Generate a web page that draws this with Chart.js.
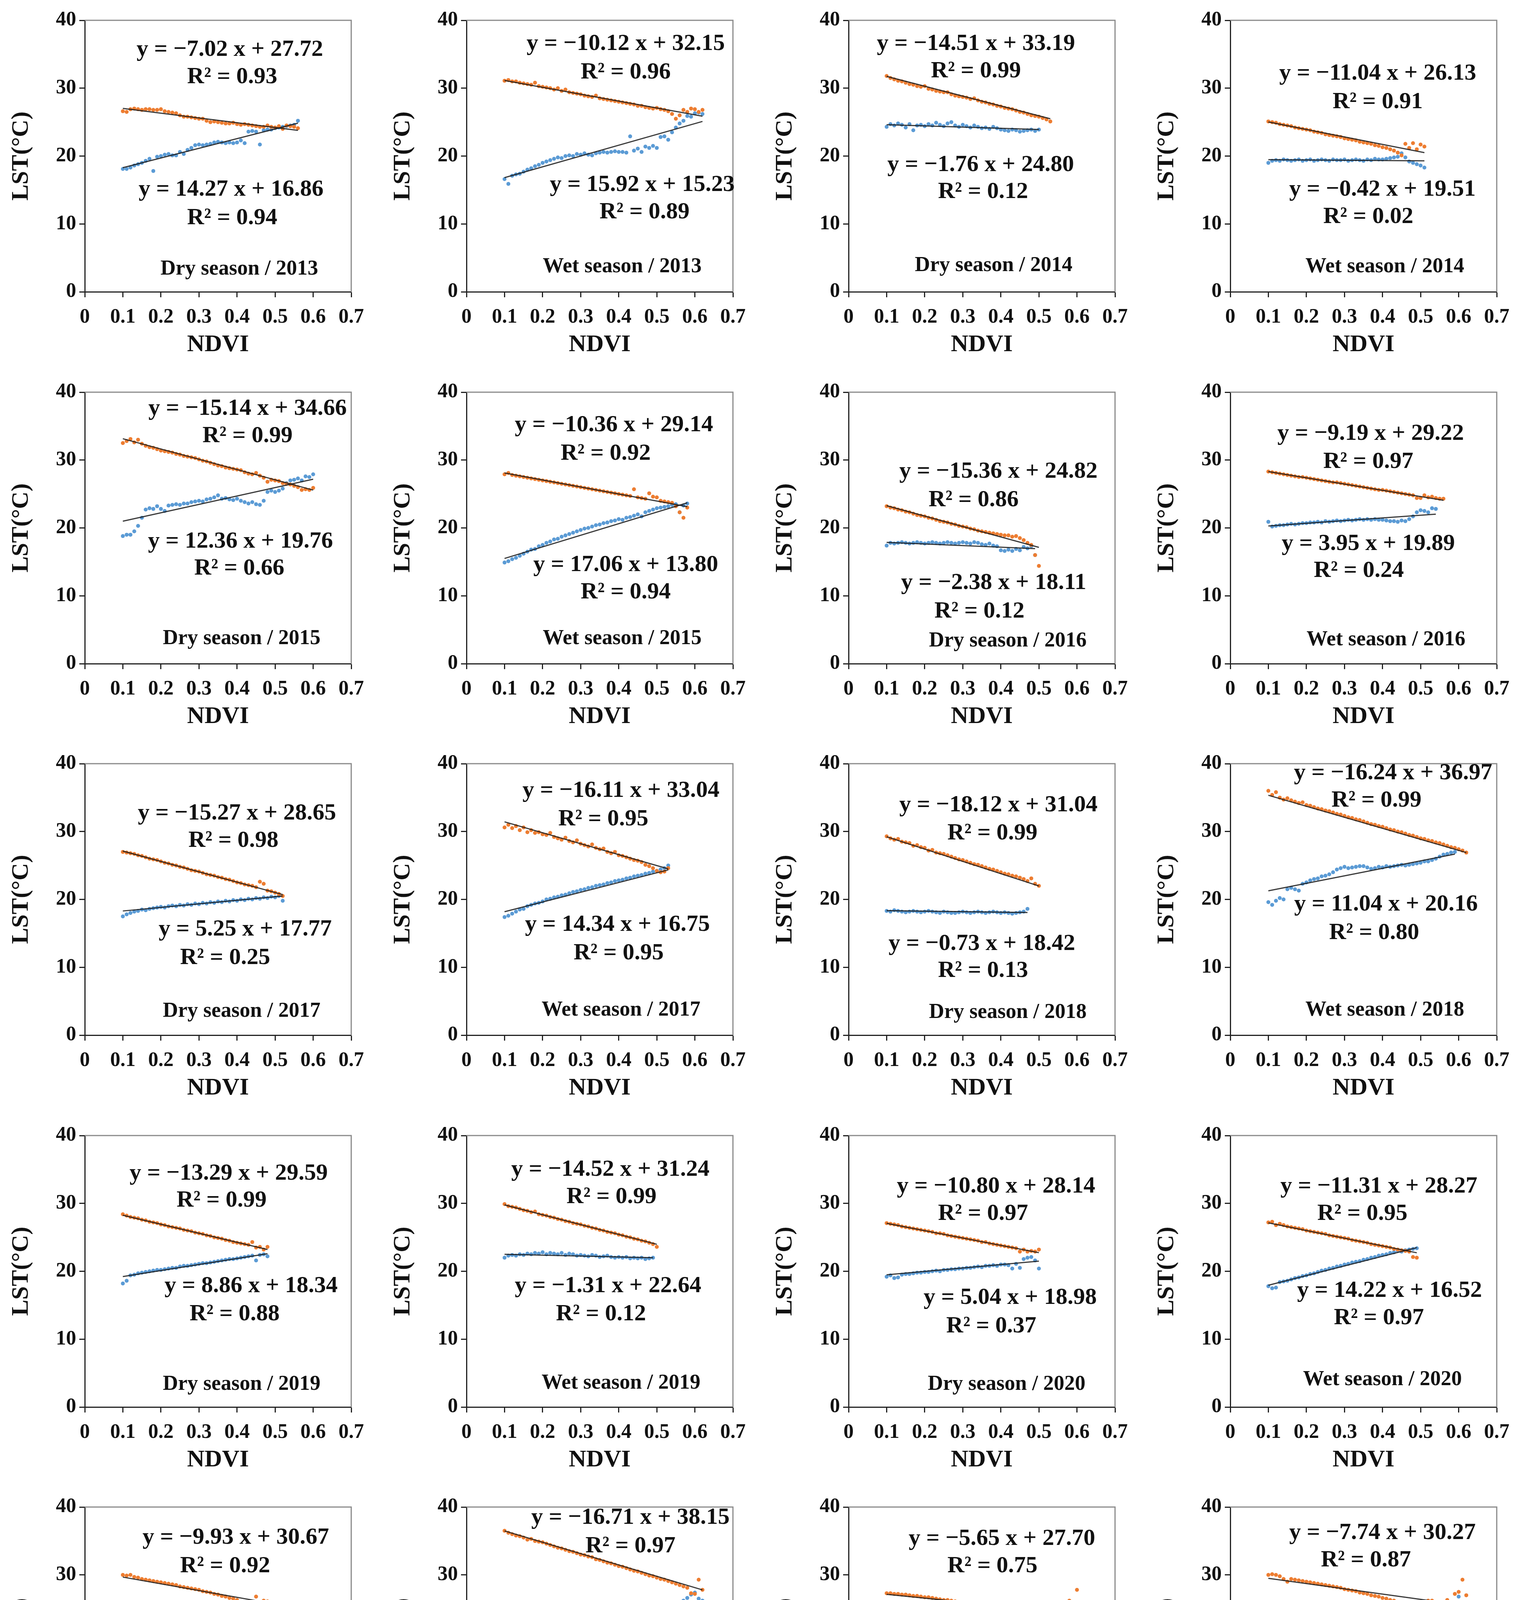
<!DOCTYPE html>
<html>
<head>
<meta charset="utf-8">
<script src="https://cdn.jsdelivr.net/npm/chart.js@4.4.1/dist/chart.umd.min.js"></script>
<style>
html, body { margin: 0; padding: 0; background: #fff; width: 3888px; height: 4744px; overflow: hidden; position: relative; }
canvas { position: absolute; }
</style>
</head>
<body>
<script>
// NDVI positions shared by every panel (each series uses the first n of them)
const ndvi = [0.10,0.11,0.12,0.13,0.14,0.15,0.16,0.17,0.18,0.19,
              0.20,0.21,0.22,0.23,0.24,0.25,0.26,0.27,0.28,0.29,
              0.30,0.31,0.32,0.33,0.34,0.35,0.36,0.37,0.38,0.39,
              0.40,0.41,0.42,0.43,0.44,0.45,0.46,0.47,0.48,0.49,
              0.50,0.51,0.52,0.53,0.54,0.55,0.56,0.57,0.58,0.59,
              0.60,0.61,0.62];

const panelTitles = ["Dry season / 2013", "Wet season / 2013", "Dry season / 2014", "Wet season / 2014",
                     "Dry season / 2015", "Wet season / 2015", "Dry season / 2016", "Wet season / 2016",
                     "Dry season / 2017", "Wet season / 2017", "Dry season / 2018", "Wet season / 2018",
                     "Dry season / 2019", "Wet season / 2019", "Dry season / 2020", "Wet season / 2020",
                     "Dry season / 2022", "Wet season / 2021", "Dry season / 2022", "Wet season / 2022"];

// fitted equations printed on each panel
const orangeSlope = [-7.02,-10.12,-14.51,-11.04,-15.14,-10.36,-15.36,-9.19,-15.27,-16.11,-18.12,-16.24,-13.29,-14.52,-10.80,-11.31,-9.93,-16.71,-5.65,-7.74];
const orangeIntercept = [27.72,32.15,33.19,26.13,34.66,29.14,24.82,29.22,28.65,33.04,31.04,36.97,29.59,31.24,28.14,28.27,30.67,38.15,27.70,30.27];
const orangeR2 = [0.93,0.96,0.99,0.91,0.99,0.92,0.86,0.97,0.98,0.95,0.99,0.99,0.99,0.99,0.97,0.95,0.92,0.97,0.75,0.87];
const blueSlope = [14.27,15.92,-1.76,-0.42,12.36,17.06,-2.38,3.95,5.25,14.34,-0.73,11.04,8.86,-1.31,5.04,14.22,11.70,4.31,7.77,11.52];
const blueIntercept = [16.86,15.23,24.80,19.51,19.76,13.80,18.11,19.89,17.77,16.75,18.42,20.16,18.34,22.64,18.98,16.52,17.98,23.51,19.82,17.98];
const blueR2 = [0.94,0.89,0.12,0.02,0.66,0.94,0.12,0.24,0.25,0.95,0.13,0.80,0.88,0.12,0.37,0.97,0.78,0.21,0.51,0.65];

// LST values
const orangeDry2013 = [26.6,26.5,26.9,27.0,26.9,26.8,26.9,26.9,26.8,26.8, 26.9,26.6,26.5,26.4,26.3,26.0,25.8,25.8,25.7,25.6,
  25.5,25.5,25.2,25.0,25.1,25.0,24.9,24.8,24.8,24.9, 24.7,24.6,24.7,24.6,24.5,24.4,24.3,24.3,24.5,24.3, 24.2,24.4,24.0,24.5,24.4,24.3,24.1];
const blueDry2013 = [18.1,18.1,18.3,18.6,18.8,19.0,19.3,19.6,17.8,19.9, 20.0,20.2,20.3,20.1,20.1,20.6,20.3,20.9,21.2,21.6,
  21.7,21.6,21.7,21.8,22.0,22.1,22.0,21.9,22.0,21.9, 22.0,22.3,21.9,23.6,23.7,23.6,21.7,23.8,23.9,23.9, 24.1,24.2,24.3,24.4,24.5,24.6,25.2];

const orangeWet2013 = [31.1,31.2,31.0,31.0,30.8,30.7,30.6,30.5,30.8,30.3, 30.2,30.1,30.0,29.8,30.0,29.6,29.8,29.4,29.3,29.2,
  29.1,28.9,28.8,28.7,28.9,28.5,28.4,28.3,28.2,28.1, 28.0,27.9,27.8,27.7,27.6,27.4,27.4,27.2,27.1,27.0,
  27.1,26.9,26.8,26.6,26.2,25.5,26.0,26.8,26.5,27.0, 26.9,26.5,26.8];
const blueWet2013 = [16.6,15.9,17.1,17.3,17.4,17.7,18.0,18.2,18.5,18.7, 19.0,19.2,19.4,19.6,19.8,19.7,20.0,20.1,20.0,20.3,
  20.2,20.4,20.2,20.1,20.4,20.5,20.6,20.5,20.6,20.7, 20.6,20.6,20.5,22.9,20.8,21.1,20.6,21.4,21.2,21.5,
  21.2,22.8,22.9,22.4,23.5,24.2,24.8,25.2,25.9,25.8, 26.3,26.4,26.2];

const orangeDry2014 = [31.8,31.5,31.3,31.1,31.0,30.8,30.6,30.5,30.3,30.2, 30.3,29.9,29.8,29.6,29.5,29.4,29.4,29.1,28.9,28.8,
  28.7,28.6,28.4,28.5,28.2,28.0,27.9,27.7,27.6,27.4, 27.3,27.1,27.0,26.9,26.7,26.5,26.4,26.2,26.0,25.9, 25.8,25.6,25.4,25.1];
const blueDry2014 = [24.3,24.7,24.5,24.8,24.6,24.2,24.7,23.8,24.5,24.6, 24.4,24.7,24.5,24.9,24.6,24.4,24.8,25.0,24.5,24.3,
  24.6,24.4,24.2,24.5,24.3,24.1,24.2,24.0,24.3,24.1, 23.9,23.8,23.7,23.9,23.8,23.6,23.7,23.8,23.9,23.7, 23.9];

const orangeWet2014 = [25.1,25.0,24.9,24.7,24.6,24.5,24.4,24.2,24.1,24.0, 23.9,23.8,23.6,23.5,23.4,23.2,23.1,23.0,22.9,22.8,
  22.6,22.5,22.4,22.3,22.1,22.0,21.9,21.8,21.6,21.5, 21.3,21.2,21.0,20.8,20.5,20.1,21.8,21.2,21.9,21.0, 21.7,21.4];
const blueWet2014 = [19.0,19.3,19.4,19.3,19.5,19.4,19.3,19.4,19.5,19.3, 19.4,19.5,19.3,19.4,19.5,19.4,19.3,19.5,19.4,19.4,
  19.5,19.3,19.4,19.5,19.4,19.3,19.5,19.4,19.6,19.5, 19.5,19.6,19.7,19.8,19.9,20.4,19.8,19.2,19.0,18.8, 18.6,18.3];

const orangeDry2015 = [32.5,32.8,33.1,32.6,33.0,32.4,32.1,31.9,31.8,31.6, 31.4,31.3,31.2,31.1,30.9,30.8,30.6,30.5,30.4,30.3,
  30.1,29.9,29.8,29.6,29.4,29.2,29.1,28.9,28.8,28.7, 28.6,28.5,28.2,28.0,27.9,28.1,27.7,27.4,26.8,27.1,
  27.0,26.9,26.6,26.5,26.4,26.2,26.0,25.6,25.7,25.6, 25.9];
const blueDry2015 = [18.8,19.0,19.0,19.5,20.3,21.5,22.7,22.9,22.8,23.2, 22.8,22.5,23.3,23.4,23.5,23.4,23.6,23.6,23.8,23.9,
  24.0,23.9,24.2,24.3,24.5,24.8,24.3,24.4,24.2,24.1, 24.3,24.0,23.8,23.6,23.8,23.5,23.4,24.0,25.3,25.5,
  25.3,25.5,25.8,26.6,27.0,27.1,27.3,27.0,27.6,27.5, 27.9];

const orangeWet2015 = [27.9,28.1,27.8,27.7,27.6,27.5,27.4,27.3,27.2,27.1, 27.0,26.9,26.8,26.7,26.6,26.5,26.4,26.3,26.2,26.1,
  26.0,25.9,25.8,25.7,25.6,25.5,25.4,25.3,25.2,25.1, 25.0,24.9,24.8,24.7,25.7,24.5,24.4,24.3,25.1,24.6,
  24.5,24.0,23.9,23.8,23.7,23.2,22.3,21.5,23.0];
const blueWet2015 = [14.9,15.1,15.4,15.6,15.9,16.2,16.5,16.8,16.9,17.3, 17.5,17.8,18.0,18.3,18.4,18.7,18.9,19.1,19.3,19.5,
  19.7,19.9,20.0,20.2,20.4,20.5,20.7,20.8,21.0,21.1, 21.3,21.2,21.5,21.6,21.8,22.0,21.7,22.3,22.5,22.7,
  22.9,23.0,23.1,23.2,23.4,23.5,22.3,23.3,23.6];

const orangeDry2016 = [23.2,23.0,22.9,22.7,22.6,22.4,22.3,22.1,21.9,21.8, 21.7,21.5,21.4,21.2,21.0,20.9,20.8,20.6,20.5,20.3,
  20.2,20.1,19.9,19.8,19.6,19.5,19.4,19.3,19.2,19.1, 19.0,18.9,18.9,18.7,18.8,18.5,18.2,17.8,17.5,16.0, 14.4];
const blueDry2016 = [17.4,17.8,17.7,17.8,17.9,17.8,17.7,17.8,17.9,17.8, 17.7,17.8,17.9,17.8,17.7,17.8,17.9,17.8,17.7,17.8,
  17.9,17.8,17.7,17.9,17.8,17.6,17.5,17.7,17.4,17.3, 16.7,16.6,16.8,16.6,16.9,16.7,17.2,17.0,17.3,16.0];

const orangeWet2016 = [28.3,28.2,28.1,28.0,27.9,27.8,27.7,27.6,27.5,27.5, 27.4,27.3,27.2,27.1,27.0,26.9,26.8,26.7,26.7,26.6,
  26.5,26.4,26.3,26.2,26.1,26.0,25.9,25.8,25.7,25.6, 25.6,25.5,25.4,25.3,25.2,25.1,25.0,24.9,24.8,24.4, 24.4,24.8,24.5,24.6,24.4,24.3,24.3];
const blueWet2016 = [20.9,20.2,20.3,20.4,20.4,20.5,20.6,20.5,20.6,20.7, 20.7,20.8,20.8,20.9,20.8,21.0,20.9,21.0,21.1,21.0,
  21.1,21.2,21.1,21.2,21.3,21.2,21.3,21.2,21.3,21.2, 21.2,21.1,21.0,21.0,20.9,21.1,21.0,21.3,21.7,22.3, 22.6,22.5,22.3,22.9,22.8];

const orangeDry2017 = [27.0,26.9,26.8,26.7,26.5,26.4,26.2,26.0,25.9,25.8, 25.6,25.4,25.3,25.1,25.0,24.8,24.7,24.5,24.3,24.2,
  24.1,23.9,23.7,23.6,23.5,23.3,23.2,23.0,22.9,22.7, 22.5,22.4,22.2,22.1,22.0,21.8,22.6,22.3,21.3,21.2, 21.0,20.8,20.5];
const blueDry2017 = [17.5,17.8,18.0,18.2,18.3,18.5,18.4,18.6,18.7,18.8, 18.9,18.8,19.0,19.1,19.0,19.2,19.1,19.3,19.2,19.4,
  19.3,19.5,19.4,19.6,19.5,19.7,19.6,19.8,19.7,19.9, 19.8,20.0,19.9,20.1,20.0,20.2,20.1,20.3,20.2,20.4, 20.3,20.5,19.8];

const orangeWet2017 = [30.6,31.0,30.5,30.8,30.2,30.6,29.9,30.2,29.8,29.9, 29.6,29.5,29.8,29.2,29.0,28.8,29.1,28.6,28.4,28.7,
  28.2,28.0,27.8,28.1,27.6,27.4,27.5,27.0,26.8,27.0, 26.5,26.4,26.2,26.0,25.8,25.7,25.5,25.1,24.9,24.6, 24.2,24.0,24.1,24.6];
const blueWet2017 = [17.4,17.6,17.9,18.2,18.5,18.6,19.0,19.2,19.4,19.5, 19.7,20.0,20.1,20.3,20.4,20.6,20.7,20.9,21.1,21.2,
  21.4,21.5,21.7,21.8,22.0,22.1,22.2,22.4,22.5,22.7, 22.8,22.9,23.1,23.2,23.4,23.5,23.6,23.8,23.9,24.1, 24.2,24.4,24.6,25.0];

const orangeDry2018 = [29.3,29.0,28.8,28.9,28.5,28.4,28.3,27.9,28.0,27.7, 27.6,27.2,27.3,26.9,26.8,26.7,26.5,26.3,26.1,25.9,
  25.8,25.6,25.4,25.2,25.1,24.9,24.7,24.5,24.4,24.2, 24.0,23.8,23.7,23.5,23.4,23.2,23.0,22.7,23.1,22.3, 22.0];
const blueDry2018 = [18.3,18.2,18.4,18.3,18.2,18.1,18.2,18.3,18.2,18.1, 18.2,18.3,18.2,18.1,18.0,18.2,18.1,18.0,18.0,18.1,
  18.2,18.1,18.0,18.1,18.2,18.1,18.0,18.1,18.2,18.1, 18.0,18.1,18.0,17.9,18.0,18.1,18.2,18.6];

const orangeWet2018 = [36.0,35.4,35.8,35.0,34.7,34.9,34.6,34.4,34.2,34.3, 33.9,33.8,33.6,33.4,33.3,33.1,33.0,32.8,32.6,32.5,
  32.3,32.1,32.0,31.8,31.7,31.5,31.3,31.1,31.0,30.8, 30.7,30.5,30.3,30.2,30.0,29.9,29.7,29.5,29.4,29.2,
  29.0,28.9,28.7,28.6,28.4,28.3,28.1,27.9,27.7,27.6, 27.4,27.2,26.9];
const blueWet2018 = [19.6,19.2,19.8,20.2,20.0,21.5,21.7,21.5,21.3,22.3, 22.5,22.8,23.0,23.1,23.4,23.5,23.7,24.0,24.4,24.6,
  24.8,24.6,24.7,24.8,24.9,24.9,24.7,24.5,24.6,24.8, 24.7,24.9,24.8,24.9,25.0,25.1,25.0,25.1,25.2,25.3,
  25.4,25.6,25.6,25.8,26.0,26.3,26.6,26.7,26.9,27.0];

const orangeDry2019 = [28.4,28.2,28.0,27.9,27.8,27.6,27.5,27.3,27.2,27.1, 26.9,26.8,26.6,26.5,26.4,26.3,26.1,26.0,25.9,25.7,
  25.6,25.5,25.3,25.2,25.0,24.9,24.8,24.6,24.5,24.3, 24.2,24.1,24.0,23.9,24.3,23.5,23.6,23.2,23.6];
const blueDry2019 = [18.2,18.6,19.4,19.5,19.7,19.8,19.9,20.0,20.1,20.2, 20.2,20.3,20.4,20.5,20.5,20.7,20.8,20.8,20.9,21.0,
  21.1,21.2,21.2,21.3,21.4,21.5,21.6,21.7,21.8,21.8, 21.9,22.0,22.1,22.2,22.3,21.6,22.4,22.5,22.2];

const orangeWet2019 = [29.9,29.6,29.5,29.4,29.2,29.0,28.9,28.7,28.8,28.4, 28.3,28.2,28.0,27.9,27.7,27.6,27.4,27.3,27.1,27.0,
  26.9,26.7,26.6,26.4,26.3,26.1,26.0,25.8,25.7,25.6, 25.4,25.3,25.1,25.0,24.8,24.7,24.5,24.4,24.2,24.0, 23.6];
const blueWet2019 = [22.0,22.3,22.4,22.3,22.5,22.4,22.6,22.5,22.7,22.6, 22.8,22.5,22.7,22.6,22.5,22.7,22.4,22.6,22.5,22.3,
  22.4,22.3,22.2,22.4,22.3,22.1,22.2,22.3,22.1,22.0, 22.1,22.0,22.1,21.9,22.0,21.9,22.0,21.8,21.9,22.0];

const orangeDry2020 = [27.1,27.0,26.9,26.8,26.6,26.5,26.4,26.3,26.2,26.1, 26.0,25.9,25.8,25.6,25.6,25.5,25.3,25.2,25.1,25.0,
  24.9,24.8,24.7,24.6,24.5,24.3,24.3,24.1,24.0,23.9, 23.8,23.7,23.6,23.5,23.4,22.9,23.2,22.9,23.0,22.9, 23.2];
const blueDry2020 = [19.2,19.4,19.0,19.1,19.5,19.6,19.6,19.7,19.8,19.8, 19.9,19.9,20.0,20.1,20.0,20.2,20.2,20.3,20.3,20.4,
  20.4,20.5,20.5,20.6,20.7,20.6,20.8,20.8,20.9,20.8, 21.0,21.0,20.9,20.4,21.1,20.5,21.8,22.0,22.1,21.6, 20.4];

const orangeWet2020 = [27.2,27.3,26.8,27.0,26.8,26.6,26.5,26.4,26.3,26.2, 26.0,25.9,25.8,25.7,25.6,25.5,25.3,25.2,25.1,25.0,
  24.9,24.8,24.6,24.5,24.4,24.3,24.2,24.0,23.9,23.8, 23.7,23.6,23.5,23.3,23.2,23.1,23.0,22.9,22.1,22.0];
const blueWet2020 = [17.8,17.5,17.6,18.4,18.5,18.6,18.8,19.0,19.1,19.3, 19.4,19.6,19.7,19.9,20.1,20.2,20.4,20.5,20.7,20.8,
  21.0,21.1,21.3,21.4,21.5,21.7,21.8,22.0,22.1,22.3, 22.4,22.5,22.7,22.8,23.0,22.9,23.1,23.2,23.3,23.4];

const orangeDry2022a = [30.0,29.9,30.0,29.7,29.6,29.4,29.3,29.2,29.1,29.0, 28.9,28.8,28.7,28.6,28.5,28.3,28.2,28.1,28.0,27.9,
  27.8,27.6,27.5,27.4,27.2,27.1,26.9,26.8,26.6,26.5, 26.3,26.0,25.9,25.7,25.6,26.8,25.8,26.2,26.1,25.9,
  26.0,25.9,25.8,25.7,25.9,25.6,25.8,25.5];
const blueDry2022a = [19.4,19.2,19.6,19.5,19.7,19.9,20.0,18.8,20.2,20.4, 20.5,20.6,20.8,20.7,21.0,21.2,21.3,21.4,21.5,21.6,
  21.8,21.9,22.0,22.2,22.3,22.3,22.5,23.5,22.7,22.9, 23.0,23.2,23.4,21.2,23.6,23.8,24.0,24.8,24.5,24.2,
  24.5,24.3,24.6,24.5,24.8,25.0,25.2,25.5];

const orangeWet2021 = [36.5,36.2,36.0,35.8,35.7,35.5,35.2,35.3,35.0,34.9, 34.8,34.6,34.4,34.2,34.0,33.9,33.7,33.5,33.4,33.2,
  33.0,32.9,32.7,32.6,32.3,32.2,32.0,31.8,31.7,31.5, 31.3,31.2,31.0,30.8,30.6,30.5,30.3,30.1,29.9,29.8,
  29.6,29.4,29.3,29.1,28.9,28.7,28.5,28.3,28.1,27.3, 27.2,29.3,27.8];
const blueWet2021 = [23.5,23.0,23.9,24.2,24.5,24.9,24.5,25.0,25.1,24.8, 25.2,24.9,24.7,24.8,25.0,24.7,24.6,24.8,24.6,24.5,
  24.7,24.6,24.5,24.8,24.6,24.7,24.9,24.5,24.7,24.6, 24.8,24.7,24.9,24.8,24.7,25.0,24.9,25.1,24.9,25.0,
  25.1,25.2,25.3,25.4,25.5,25.6,25.8,26.2,26.6,27.1, 27.4,26.5,26.2];

const orangeDry2022b = [27.3,27.3,27.2,27.2,27.1,27.1,27.0,26.9,26.9,26.8, 26.7,26.7,26.6,26.5,26.4,26.3,26.3,26.2,26.1,26.0,
  25.9,25.8,25.7,25.6,25.5,25.4,25.3,25.2,25.0,24.9, 24.8,24.7,24.6,24.4,24.5,24.3,24.4,24.2,24.3,24.2,
  24.3,24.5,25.6,25.5,25.4,25.3,25.6,24.2,26.2,25.9, 27.8];
const blueDry2022b = [20.8,20.9,21.0,21.1,21.0,21.2,21.3,21.2,21.4,21.3, 21.5,21.4,21.6,21.6,21.7,21.8,21.8,21.9,22.0,22.0,
  22.1,22.1,22.2,22.2,22.2,22.3,22.2,22.3,22.3,22.4, 22.3,22.5,22.6,22.7,22.5,22.4,23.4,23.1,23.3,23.6,
  23.8,23.4,23.9,24.5,24.7,24.6,25.0,25.3,25.6,25.4, 25.8];

const orangeWet2022 = [30.0,30.1,30.0,29.8,29.4,29.0,29.4,29.3,29.2,29.1, 29.0,28.9,28.8,28.7,28.6,28.5,28.4,28.3,28.2,28.1,
  27.9,27.8,27.7,27.6,27.4,27.3,27.2,27.0,26.9,26.8, 26.6,26.5,26.3,26.2,25.7,25.9,25.4,25.8,25.0,25.1,
  25.2,25.8,26.2,26.2,26.0,25.8,25.6,26.3,25.9,27.2, 27.5,29.3,27.0];
const blueWet2022 = [19.2,19.0,19.3,19.5,19.6,19.8,19.9,20.0,20.2,20.3, 20.5,20.6,20.8,20.9,21.0,21.1,21.3,21.4,21.5,21.6,
  21.7,21.8,21.8,21.9,21.9,22.0,22.0,22.1,22.1,22.2, 22.2,22.3,22.3,22.4,22.2,22.0,22.1,22.2,22.3,22.5,
  22.8,23.2,24.0,24.2,24.3,24.4,24.6,24.9,25.3,25.5, 26.8,25.6,25.2];

const orangeSeries = [orangeDry2013, orangeWet2013, orangeDry2014, orangeWet2014, orangeDry2015, orangeWet2015,
  orangeDry2016, orangeWet2016, orangeDry2017, orangeWet2017, orangeDry2018, orangeWet2018, orangeDry2019, orangeWet2019,
  orangeDry2020, orangeWet2020, orangeDry2022a, orangeWet2021, orangeDry2022b, orangeWet2022];
const blueSeries = [blueDry2013, blueWet2013, blueDry2014, blueWet2014, blueDry2015, blueWet2015,
  blueDry2016, blueWet2016, blueDry2017, blueWet2017, blueDry2018, blueWet2018, blueDry2019, blueWet2019,
  blueDry2020, blueWet2020, blueDry2022a, blueWet2021, blueDry2022b, blueWet2022];

// text placement inside each plot (offsets from the plot's top-left corner, reference preview units)
// order: orange equation, orange R2, blue equation, blue R2, season label
const textOffsets = [
  [[123,25],[125,48],[124,143],[125,167],[131,210]],
  [[135,20],[135,44],[149,139],[151,162],[132,208]],
  [[108,20],[108,43],[112,122],[114,145],[123,207]],
  [[125,45],[125,69],[129,143],[117,166],[131,208]],
  [[138,14],[138,37],[132,126],[131,149],[133,208]],
  [[125,28],[118,52],[135,146],[135,169],[132,208]],
  [[127,67],[106,91],[123,161],[111,185],[135,210]],
  [[119,35],[117,59],[117,128],[109,151],[132,209]],
  [[129,42],[126,65],[136,140],[119,164],[133,209]],
  [[131,23],[116,47],[128,136],[129,160],[131,208]],
  [[127,35],[122,59],[113,152],[114,175],[135,210]],
  [[138,8],[124,31],[132,119],[122,143],[131,208]],
  [[122,32],[116,55],[141,127],[127,151],[133,210]],
  [[122,29],[123,52],[120,127],[114,151],[131,209]],
  [[125,43],[114,66],[137,137],[121,161],[134,210]],
  [[126,43],[112,66],[135,131],[126,154],[129,206]],
  [[128,26],[119,50],[131,134],[127,158],[133,211]],
  [[139,9],[139,33],[140,108],[129,132],[131,210]],
  [[130,27],[122,50],[131,137],[125,161],[130,209]],
  [[129,22],[115,45],[130,134],[123,158],[130,210]]
];

const FONT = '"Liberation Serif", "Times New Roman", serif';
const ORANGE = '#ED7D31';
const BLUE = '#5B9BD5';
const INK = '#111111';
const CW = 978, CH = 952;
const COL_STEP = 977.3, ROW_STEP = 951.5;
const AXIS_LEFT = 217, PAD_TOP = 52, PLOT_W = 682, PLOT_H = 695;
const SX = 3.019, SY = 3.033;

function num(v) {
  return v < 0 ? '\u2212' + Math.abs(v).toFixed(2) : v.toFixed(2);
}

const boxPlugin = {
  id: 'box',
  afterDraw(chart) {
    const {ctx, chartArea: a} = chart;
    ctx.save();
    ctx.strokeStyle = '#8a8a8a';
    ctx.lineWidth = 3;
    ctx.beginPath();
    ctx.moveTo(a.left, a.top);
    ctx.lineTo(a.right, a.top);
    ctx.lineTo(a.right, a.bottom);
    ctx.stroke();
    ctx.restore();
  }
};

function textPlugin(i) {
  const lines = [
    'y = ' + num(orangeSlope[i]) + ' x + ' + orangeIntercept[i].toFixed(2),
    'R\u00b2 = ' + orangeR2[i].toFixed(2),
    'y = ' + num(blueSlope[i]) + ' x + ' + blueIntercept[i].toFixed(2),
    'R\u00b2 = ' + blueR2[i].toFixed(2),
    panelTitles[i]
  ];
  return {
    id: 'texts' + i,
    afterDraw(chart) {
      const {ctx, chartArea: a} = chart;
      ctx.save();
      ctx.fillStyle = INK;
      ctx.textAlign = 'center';
      ctx.textBaseline = 'middle';
      lines.forEach((t, k) => {
        ctx.font = (k === 4 ? 'bold 54px ' : 'bold 60px ') + FONT;
        const [dx, dy] = textOffsets[i][k];
        ctx.fillText(t, a.left + dx * SX, a.top + dy * SY);
      });
      ctx.restore();
    }
  };
}

function makePanel(i) {
  const col = i % 4, row = Math.floor(i / 4);
  const canvas = document.createElement('canvas');
  canvas.width = CW;
  canvas.height = CH;
  canvas.style.left = Math.round(col * COL_STEP) + 'px';
  canvas.style.top = Math.round(row * ROW_STEP) + 'px';
  canvas.style.width = CW + 'px';
  canvas.style.height = CH + 'px';
  document.body.appendChild(canvas);

  const points = arr => arr.map((v, k) => ({x: ndvi[k], y: v}));
  const fitLine = (arr, m, b) => {
    const x0 = ndvi[0], x1 = ndvi[arr.length - 1];
    return [{x: x0, y: m * x0 + b}, {x: x1, y: m * x1 + b}];
  };
  const tickFont = {family: FONT, size: 52, weight: 'bold'};
  const titleFont = {family: FONT, size: 62, weight: 'bold'};

  new Chart(canvas, {
    type: 'scatter',
    data: {
      datasets: [
        {data: points(orangeSeries[i]), backgroundColor: ORANGE, borderColor: ORANGE, pointRadius: 5, pointBorderWidth: 0, order: 2},
        {data: points(blueSeries[i]), backgroundColor: BLUE, borderColor: BLUE, pointRadius: 5, pointBorderWidth: 0, order: 2},
        {type: 'line', data: fitLine(orangeSeries[i], orangeSlope[i], orangeIntercept[i]), borderColor: 'rgba(25,25,25,0.85)', borderWidth: 3, pointRadius: 0, fill: false, order: 1},
        {type: 'line', data: fitLine(blueSeries[i], blueSlope[i], blueIntercept[i]), borderColor: 'rgba(25,25,25,0.85)', borderWidth: 3, pointRadius: 0, fill: false, order: 1}
      ]
    },
    options: {
      responsive: false,
      animation: false,
      devicePixelRatio: 1,
      layout: {padding: {left: 0, top: PAD_TOP, right: CW - AXIS_LEFT - PLOT_W, bottom: 0}},
      plugins: {legend: {display: false}, tooltip: {enabled: false}},
      scales: {
        x: {
          type: 'linear', min: 0, max: 0.7,
          ticks: {stepSize: 0.1, font: tickFont, color: INK, padding: 20, maxRotation: 0, autoSkip: false},
          grid: {drawOnChartArea: false, drawTicks: true, tickLength: 14, tickWidth: 3, tickColor: '#222'},
          border: {display: true, color: '#222', width: 3},
          title: {display: true, text: 'NDVI', font: titleFont, color: INK, padding: {top: 0, bottom: 32}},
          afterFit(s) { s.height = CH - PAD_TOP - PLOT_H; }
        },
        y: {
          min: 0, max: 40,
          ticks: {stepSize: 10, font: tickFont, color: INK, padding: 8},
          grid: {drawOnChartArea: false, drawTicks: true, tickLength: 14, tickWidth: 3, tickColor: '#222'},
          border: {display: true, color: '#222', width: 3},
          title: {display: true, text: 'LST(°C)', font: titleFont, color: INK, padding: {top: 18, bottom: 0}},
          afterFit(s) { s.width = AXIS_LEFT; }
        }
      }
    },
    plugins: [boxPlugin, textPlugin(i)]
  });
}

for (let i = 0; i < 20; i++) makePanel(i);
</script>
</body>
</html>
